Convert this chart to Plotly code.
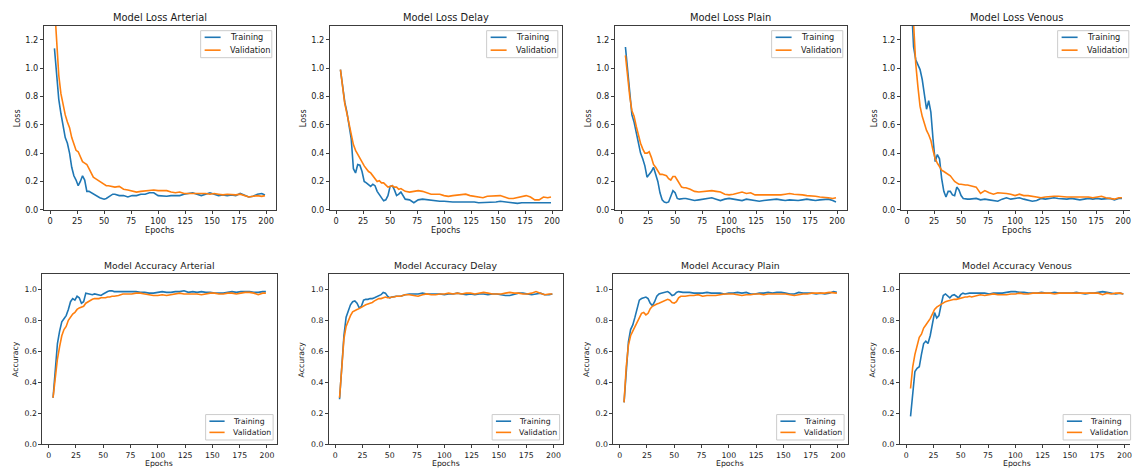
import plotly.graph_objects as go

# ---------------- data ----------------
EPOCHS = [4, 6, 8, 10, 12, 14, 16, 18, 20, 22, 24, 26, 28, 30, 32, 34, 36, 38, 40, 42,
          44, 46, 48, 50, 52, 54, 56, 58, 60,
          64, 68, 72, 76, 80, 84, 88, 92, 96, 100, 104, 108, 112, 116, 120, 124, 128,
          132, 136, 140, 144, 148, 152, 156, 160, 164, 168, 172, 176, 180, 184, 188,
          192, 196, 199]

X_TICKS = [0, 25, 50, 75, 100, 125, 150, 175, 200]
LOSS_TICKS = [0.0, 0.2, 0.4, 0.6, 0.8, 1.0, 1.2]
ACC_TICKS = [0.0, 0.2, 0.4, 0.6, 0.8, 1.0]
PHASES = ["Arterial", "Delay", "Plain", "Venous"]
SERIES_NAMES = ["Training", "Validation"]

LOSS_ARTERIAL_TRAIN = [
    1.14, 0.95, 0.78, 0.68, 0.58, 0.51, 0.47, 0.40, 0.30, 0.24, 0.21, 0.17, 0.20, 0.24, 0.21,
    0.13, 0.13, 0.12, 0.11, 0.10, 0.09, 0.085, 0.08, 0.075, 0.08, 0.09, 0.10, 0.11, 0.11,
    0.10, 0.10, 0.09, 0.10, 0.10, 0.11, 0.11, 0.12, 0.12, 0.10, 0.095, 0.095, 0.10, 0.10,
    0.10, 0.11, 0.115, 0.12, 0.11, 0.10, 0.11, 0.12, 0.11, 0.10, 0.105, 0.10, 0.105, 0.10,
    0.115, 0.10, 0.09, 0.095, 0.11, 0.115,
    0.105]
LOSS_ARTERIAL_VAL = [
    1.45, 1.15, 0.95, 0.82, 0.73, 0.67, 0.62, 0.58, 0.51, 0.46, 0.42, 0.41, 0.37, 0.34, 0.33,
    0.32, 0.29, 0.26, 0.23, 0.22, 0.21, 0.20, 0.19, 0.18, 0.17, 0.17, 0.165, 0.16, 0.16,
    0.165, 0.145, 0.14, 0.13, 0.125, 0.13, 0.135, 0.14, 0.14, 0.135, 0.135, 0.135, 0.125,
    0.12, 0.125, 0.115, 0.115, 0.115, 0.12, 0.12, 0.115, 0.11, 0.115, 0.11, 0.105, 0.11,
    0.105, 0.105, 0.11, 0.10, 0.09, 0.095, 0.10, 0.095,
    0.10]
LOSS_DELAY_TRAIN = [
    0.99, 0.86, 0.76, 0.69, 0.60, 0.50, 0.29, 0.26, 0.32, 0.315, 0.27, 0.20, 0.19, 0.18,
    0.165, 0.18, 0.17, 0.13, 0.105, 0.09, 0.063, 0.07, 0.10, 0.165, 0.17, 0.14, 0.10, 0.11,
    0.125,
    0.075, 0.07, 0.05, 0.07, 0.075, 0.07, 0.065, 0.06, 0.06, 0.06, 0.055, 0.055, 0.055,
    0.055, 0.055, 0.06, 0.055, 0.05, 0.05, 0.05, 0.05, 0.055, 0.06, 0.055, 0.05, 0.045,
    0.045, 0.05, 0.05, 0.045, 0.05, 0.05, 0.05, 0.05,
    0.05]
LOSS_DELAY_VAL = [
    0.99, 0.87, 0.75, 0.68, 0.60, 0.52, 0.46, 0.42, 0.39, 0.37, 0.34, 0.31, 0.29, 0.27, 0.26,
    0.24, 0.22, 0.20, 0.205, 0.19, 0.19, 0.175, 0.16, 0.165, 0.17, 0.16, 0.16, 0.145, 0.15,
    0.13, 0.125, 0.13, 0.135, 0.13, 0.12, 0.11, 0.11, 0.11, 0.10, 0.095, 0.10, 0.105, 0.11,
    0.11, 0.10, 0.095, 0.085, 0.085, 0.095, 0.095, 0.10, 0.10, 0.09, 0.08, 0.08, 0.085,
    0.09, 0.10, 0.09, 0.07, 0.07, 0.09, 0.085,
    0.09]
LOSS_PLAIN_TRAIN = [
    1.15, 0.98, 0.80, 0.67, 0.62, 0.55, 0.47, 0.40, 0.36, 0.31, 0.23, 0.25, 0.27, 0.30,
    0.25, 0.20, 0.12, 0.07, 0.055, 0.05, 0.055, 0.10, 0.135, 0.12, 0.08, 0.075, 0.08, 0.08,
    0.08,
    0.075, 0.065, 0.07, 0.075, 0.08, 0.085, 0.075, 0.065, 0.075, 0.08, 0.075, 0.07, 0.065,
    0.075, 0.07, 0.065, 0.06, 0.065, 0.07, 0.07, 0.075, 0.07, 0.065, 0.07, 0.065, 0.065,
    0.07, 0.075, 0.07, 0.065, 0.07, 0.075, 0.075, 0.065,
    0.055]
LOSS_PLAIN_VAL = [
    1.09, 0.93, 0.80, 0.70, 0.66, 0.59, 0.52, 0.47, 0.43, 0.40, 0.40, 0.41, 0.37, 0.32, 0.30,
    0.27, 0.25, 0.25, 0.245, 0.24, 0.22, 0.21, 0.235, 0.235, 0.21, 0.18, 0.16, 0.155, 0.155,
    0.145, 0.13, 0.125, 0.13, 0.135, 0.135, 0.13, 0.125, 0.11, 0.105, 0.11, 0.115, 0.125,
    0.115, 0.12, 0.105, 0.105, 0.10, 0.105, 0.10, 0.10, 0.105, 0.11, 0.115, 0.11, 0.11,
    0.105, 0.10, 0.10, 0.095, 0.09, 0.09, 0.085, 0.08,
    0.085]
LOSS_VENOUS_TRAIN = [
    1.45, 1.15, 1.06, 1.02, 0.99, 0.92, 0.82, 0.71, 0.77, 0.69, 0.50, 0.34, 0.39, 0.36, 0.22,
    0.13, 0.09, 0.13, 0.13, 0.105, 0.10, 0.16, 0.14, 0.10, 0.08, 0.075, 0.075, 0.075, 0.075,
    0.08, 0.07, 0.075, 0.07, 0.065, 0.06, 0.075, 0.085, 0.075, 0.08, 0.085, 0.075, 0.07,
    0.06, 0.065, 0.08, 0.075, 0.08, 0.085, 0.08, 0.075, 0.075, 0.08, 0.075, 0.07, 0.075,
    0.08, 0.075, 0.08, 0.075, 0.075, 0.08, 0.07, 0.08,
    0.08]
LOSS_VENOUS_VAL = [
    1.60, 1.28, 1.03, 0.87, 0.73, 0.66, 0.60, 0.56, 0.53, 0.49, 0.42, 0.36, 0.33, 0.30, 0.28,
    0.27, 0.26, 0.25, 0.24, 0.22, 0.20, 0.19, 0.18, 0.18, 0.175, 0.175, 0.175, 0.17, 0.17,
    0.16, 0.115, 0.135, 0.12, 0.11, 0.12, 0.12, 0.115, 0.11, 0.10, 0.11, 0.10, 0.10, 0.095,
    0.095, 0.085, 0.09, 0.095, 0.095, 0.095, 0.09, 0.09, 0.09, 0.09, 0.09, 0.095, 0.09,
    0.085, 0.09, 0.095, 0.085, 0.08, 0.075, 0.085,
    0.085]

ACC_ARTERIAL_TRAIN = [
    0.30, 0.48, 0.65, 0.73, 0.79, 0.81, 0.83, 0.87, 0.92, 0.94, 0.93, 0.955, 0.945, 0.91,
    0.92, 0.975, 0.97, 0.965, 0.965, 0.97, 0.965, 0.965, 0.96, 0.97, 0.98, 0.985, 0.99, 0.99,
    0.985,
    0.985, 0.985, 0.985, 0.985, 0.985, 0.98, 0.98, 0.975, 0.975, 0.98, 0.985, 0.98, 0.98,
    0.985, 0.985, 0.99, 0.98, 0.985, 0.98, 0.985, 0.98, 0.98, 0.975, 0.975, 0.975, 0.98,
    0.985, 0.98, 0.985, 0.985, 0.985, 0.98, 0.98, 0.985,
    0.985]
ACC_ARTERIAL_VAL = [
    0.30, 0.45, 0.55, 0.63, 0.70, 0.74, 0.76, 0.80, 0.82, 0.84, 0.85, 0.87, 0.88, 0.885,
    0.89, 0.91, 0.92, 0.93, 0.935, 0.94, 0.94, 0.94, 0.945, 0.945, 0.945, 0.95, 0.95, 0.955,
    0.955,
    0.96, 0.97, 0.97, 0.97, 0.975, 0.975, 0.97, 0.965, 0.96, 0.96, 0.965, 0.96, 0.965, 0.97,
    0.975, 0.97, 0.97, 0.97, 0.97, 0.965, 0.97, 0.975, 0.975, 0.97, 0.97, 0.975, 0.975,
    0.97, 0.975, 0.98, 0.98, 0.975, 0.965, 0.975,
    0.975]
ACC_DELAY_TRAIN = [
    0.29, 0.50, 0.70, 0.82, 0.86, 0.90, 0.92, 0.925, 0.91, 0.88, 0.89, 0.93, 0.935, 0.935,
    0.94, 0.94, 0.945, 0.95, 0.955, 0.965, 0.98, 0.975, 0.955, 0.945, 0.95, 0.955, 0.955,
    0.955, 0.955,
    0.965, 0.97, 0.97, 0.97, 0.975, 0.97, 0.97, 0.97, 0.97, 0.965, 0.97, 0.97, 0.975, 0.97,
    0.965, 0.97, 0.965, 0.97, 0.97, 0.965, 0.97, 0.97, 0.965, 0.96, 0.96, 0.97, 0.975,
    0.975, 0.97, 0.965, 0.97, 0.975, 0.965, 0.965,
    0.97]
ACC_DELAY_VAL = [
    0.30, 0.50, 0.68, 0.76, 0.80, 0.83, 0.855, 0.865, 0.87, 0.875, 0.885, 0.89, 0.90, 0.905,
    0.91, 0.915, 0.925, 0.935, 0.94, 0.94, 0.945, 0.95, 0.945, 0.945, 0.95, 0.95, 0.955,
    0.955, 0.955,
    0.965, 0.965, 0.96, 0.955, 0.965, 0.97, 0.965, 0.965, 0.97, 0.97, 0.975, 0.97, 0.975,
    0.97, 0.975, 0.975, 0.97, 0.975, 0.98, 0.975, 0.97, 0.97, 0.97, 0.975, 0.98, 0.975,
    0.975, 0.97, 0.97, 0.975, 0.985, 0.975, 0.965, 0.97,
    0.97]
ACC_PLAIN_TRAIN = [
    0.27, 0.50, 0.66, 0.74, 0.77, 0.82, 0.88, 0.93, 0.94, 0.945, 0.95, 0.94, 0.91, 0.895,
    0.92, 0.955, 0.97, 0.975, 0.98, 0.985, 0.985, 0.975, 0.96, 0.965, 0.98, 0.985, 0.98,
    0.98, 0.98,
    0.98, 0.975, 0.975, 0.975, 0.98, 0.975, 0.975, 0.975, 0.97, 0.975, 0.975, 0.98, 0.975,
    0.98, 0.97, 0.97, 0.975, 0.975, 0.98, 0.975, 0.98, 0.98, 0.975, 0.97, 0.97, 0.98, 0.975,
    0.975, 0.975, 0.97, 0.975, 0.97, 0.975, 0.985,
    0.98]
ACC_PLAIN_VAL = [
    0.27, 0.50, 0.64, 0.70, 0.73, 0.76, 0.79, 0.82, 0.845, 0.85, 0.835, 0.845, 0.875, 0.89,
    0.90, 0.905, 0.91, 0.915, 0.92, 0.925, 0.935, 0.93, 0.915, 0.91, 0.92, 0.945, 0.955,
    0.955, 0.955,
    0.96, 0.96, 0.965, 0.955, 0.96, 0.96, 0.96, 0.965, 0.97, 0.97, 0.97, 0.965, 0.96, 0.965,
    0.965, 0.97, 0.97, 0.965, 0.97, 0.97, 0.97, 0.97, 0.97, 0.965, 0.96, 0.965, 0.97, 0.97,
    0.975, 0.975, 0.975, 0.975, 0.98, 0.975,
    0.975]
ACC_VENOUS_TRAIN = [
    0.18, 0.33, 0.47, 0.49, 0.50, 0.58, 0.65, 0.665, 0.65, 0.70, 0.78, 0.85, 0.815, 0.83,
    0.90, 0.96, 0.97, 0.955, 0.945, 0.96, 0.965, 0.955, 0.945, 0.965, 0.975, 0.97, 0.975,
    0.975, 0.975,
    0.975, 0.975, 0.975, 0.97, 0.975, 0.975, 0.975, 0.98, 0.985, 0.985, 0.98, 0.98, 0.975,
    0.975, 0.975, 0.98, 0.975, 0.975, 0.98, 0.975, 0.975, 0.975, 0.975, 0.98, 0.975, 0.97,
    0.975, 0.975, 0.98, 0.985, 0.98, 0.975, 0.97, 0.975,
    0.97]
ACC_VENOUS_VAL = [
    0.36, 0.50, 0.58, 0.64, 0.69, 0.71, 0.75, 0.77, 0.79, 0.81, 0.84, 0.87, 0.885, 0.895,
    0.905, 0.915, 0.92, 0.925, 0.93, 0.935, 0.935, 0.935, 0.94, 0.945, 0.945, 0.95, 0.95,
    0.955, 0.95,
    0.96, 0.965, 0.96, 0.965, 0.97, 0.965, 0.965, 0.965, 0.97, 0.97, 0.975, 0.97, 0.97,
    0.975, 0.975, 0.975, 0.975, 0.975, 0.97, 0.975, 0.975, 0.975, 0.975, 0.975, 0.975,
    0.975, 0.975, 0.975, 0.975, 0.965, 0.975, 0.97, 0.975, 0.975,
    0.97]

LOSS_TRAIN = [LOSS_ARTERIAL_TRAIN, LOSS_DELAY_TRAIN, LOSS_PLAIN_TRAIN, LOSS_VENOUS_TRAIN]
LOSS_VAL = [LOSS_ARTERIAL_VAL, LOSS_DELAY_VAL, LOSS_PLAIN_VAL, LOSS_VENOUS_VAL]
ACC_TRAIN = [ACC_ARTERIAL_TRAIN, ACC_DELAY_TRAIN, ACC_PLAIN_TRAIN, ACC_VENOUS_TRAIN]
ACC_VAL = [ACC_ARTERIAL_VAL, ACC_DELAY_VAL, ACC_PLAIN_VAL, ACC_VENOUS_VAL]

for group in (LOSS_TRAIN, LOSS_VAL, ACC_TRAIN, ACC_VAL):
    for s in group:
        if len(s) != len(EPOCHS):
            raise ValueError("length mismatch %d vs %d" % (len(s), len(EPOCHS)))

# ---------------- styling / layout ----------------
W, H = 1132, 473
BLUE, ORANGE = "#1f77b4", "#ff7f0e"
FONT = "DejaVu Sans"
TEXT = "#1a1a1a"
SPINE = "#3c3c3c"
X_LO, X_HI = -5.75, 208.75

ROWS = [
    dict(kind="Loss", top=26.0, bottom=212.0, lefts=[44.0, 330.5, 616.0, 902.5], width=232.0,
         title_y=18.0, xlabel_y=232.7, tsize=9.9, small=8.2, yrange=[0, 1.3], yticks=LOSS_TICKS,
         train=LOSS_TRAIN, val=LOSS_VAL, legend="upper",
         lg=dict(w=71.3, h=27.3, inset_x=3.7, inset_y=5.0, l0=4.0, l1=20.0, tx=27.0, r1=6.7, r2=19.7)),
    dict(kind="Accuracy", top=276.7, bottom=449.0, lefts=[42.5, 329.5, 614.5, 901.5], width=234.5,
         title_y=268.3, xlabel_y=468.7, tsize=9.3, small=7.75, yrange=[0, 1.1], yticks=ACC_TICKS,
         train=ACC_TRAIN, val=ACC_VAL, legend="lower",
         lg=dict(w=67.6, h=25.7, inset_x=3.4, inset_y=4.3, l0=3.8, l1=19.0, tx=25.0, r1=6.7, r2=18.0)),
]


def fx(px):
    return px / W


def fy(py):
    return 1 - py / H


fig = go.Figure()
layout = {}
annotations = []
shapes = []
idx = 0
for row in ROWS:
    for p, phase in enumerate(PHASES):
        idx += 1
        xname = "xaxis" if idx == 1 else "xaxis%d" % idx
        yname = "yaxis" if idx == 1 else "yaxis%d" % idx
        xref = "x" if idx == 1 else "x%d" % idx
        yref = "y" if idx == 1 else "y%d" % idx
        left = row["lefts"][p]
        right_full = left + row["width"]
        right = min(right_full, W)
        x_hi = X_LO + (right - left) / row["width"] * (X_HI - X_LO)
        clipped = right_full > W

        for series, name, color in ((row["train"][p], SERIES_NAMES[0], BLUE),
                                    (row["val"][p], SERIES_NAMES[1], ORANGE)):
            fig.add_trace(go.Scatter(x=EPOCHS, y=series, mode="lines", name=name,
                                     line=dict(color=color, width=1.6),
                                     xaxis=xref, yaxis=yref, showlegend=False,
                                     hoverinfo="skip"))

        common = dict(showline=True, linecolor=SPINE, linewidth=1, ticks="outside",
                      ticklen=3, tickwidth=1, tickcolor=SPINE, showgrid=False,
                      zeroline=False, ticklabeloverflow="allow",
                      tickfont=dict(family=FONT, size=row["small"], color=TEXT))
        layout[xname] = dict(domain=[fx(left), fx(right)], range=[X_LO, x_hi], anchor=yref,
                             tickvals=X_TICKS, mirror=True, **common)
        layout[yname] = dict(domain=[fy(row["bottom"]), fy(row["top"])], range=row["yrange"],
                             anchor=xref, tickvals=row["yticks"], tickformat=".1f",
                             mirror=(not clipped), **common)

        cx = left + row["width"] / 2
        annotations.append(dict(text="Model %s %s" % (row["kind"], phase), xref="paper",
                                yref="paper", x=fx(cx), y=fy(row["title_y"]), showarrow=False,
                                xanchor="center", yanchor="middle",
                                font=dict(family=FONT, size=row["tsize"], color=TEXT)))
        annotations.append(dict(text="Epochs", xref="paper", yref="paper", x=fx(cx),
                                y=fy(row["xlabel_y"]), showarrow=False, xanchor="center",
                                yanchor="middle",
                                font=dict(family=FONT, size=row["small"], color=TEXT)))
        annotations.append(dict(text=row["kind"], xref="paper", yref="paper", x=fx(left - 27.5),
                                y=fy((row["top"] + row["bottom"]) / 2), showarrow=False,
                                textangle=-90, xanchor="center", yanchor="middle",
                                font=dict(family=FONT, size=row["small"], color=TEXT)))

        # legend box (matplotlib style)
        lg = row["lg"]
        bx1 = right_full - lg["inset_x"]
        bx0 = bx1 - lg["w"]
        if row["legend"] == "upper":
            by0 = row["top"] + lg["inset_y"]
        else:
            by0 = row["bottom"] - lg["inset_y"] - lg["h"]
        by1 = by0 + lg["h"]
        shapes.append(dict(type="rect", xref="paper", yref="paper", x0=fx(bx0), x1=fx(bx1),
                           y0=fy(by1), y1=fy(by0), line=dict(color="#cccccc", width=1),
                           fillcolor="rgba(255,255,255,0.85)", layer="above"))
        for ry, name, color in ((lg["r1"], SERIES_NAMES[0], BLUE), (lg["r2"], SERIES_NAMES[1], ORANGE)):
            yy = by0 + ry
            shapes.append(dict(type="line", xref="paper", yref="paper", x0=fx(bx0 + lg["l0"]),
                               x1=fx(bx0 + lg["l1"]), y0=fy(yy), y1=fy(yy),
                               line=dict(color=color, width=1.6), layer="above"))
            annotations.append(dict(text=name, xref="paper", yref="paper", x=fx(bx0 + lg["tx"]),
                                    y=fy(yy), showarrow=False, xanchor="left", yanchor="middle",
                                    font=dict(family=FONT, size=row["small"], color=TEXT)))

fig.update_layout(width=W, height=H, margin=dict(l=0, r=0, t=0, b=0),
                  paper_bgcolor="white", plot_bgcolor="white", showlegend=False,
                  hovermode=False, annotations=annotations, shapes=shapes, **layout)

fig.write_html("out.html", config={"displayModeBar": False, "staticPlot": True},
               post_script="document.body.style.margin='0';document.body.style.overflow='hidden';")
